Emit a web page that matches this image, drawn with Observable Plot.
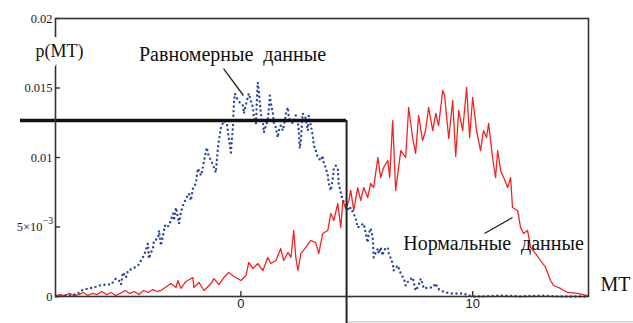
<!DOCTYPE html>
<html>
<head>
<meta charset="utf-8">
<script src="https://cdn.jsdelivr.net/npm/d3@7"></script>
<script src="https://cdn.jsdelivr.net/npm/@observablehq/plot@0.6"></script>
<style>
  html, body { margin: 0; padding: 0; background: #fff; }
  #chart svg, #chart svg text { font-family: "Liberation Serif", "DejaVu Serif", serif !important; }
  #chart svg g[fill="#1b1b1b"] text { font-family: "Liberation Sans", "DejaVu Sans", sans-serif !important; }
</style>
</head>
<body>
<div id="chart"></div>
<script>
// ---- data (p values are given in units of 10^-3) ----
const mtNormal = [-8.0,-7.8,-7.6,-7.4,-7.2,-7.0,-6.8,-6.6,-6.4,-6.2,-6.0,-5.8,-5.6,-5.4,-5.2,-5.0,-4.8,-4.6,-4.4,-4.2,-4.0,-3.8,-3.6,
  -3.45,-3.02,-2.80,-2.72,-2.59,-2.37,-2.07,-2.03,-1.81,-1.59,-1.29,-1.16,-0.95,-0.73,-0.52,-0.30,0,0.22,0.34,0.52,0.73,0.95,1.16,1.29,1.51,1.72,1.85,2.03,2.16,2.28,2.37,2.46,2.59,2.80,3.02,3.23,3.36,3.53,3.75,3.88,4.01,4.18,4.31,4.40,4.53,4.66,4.74,4.87,5.04,5.17,5.30,5.47,5.60,5.73,5.91,6.03,6.16,6.34,6.42,6.55,6.68,6.90,7.11,7.24,7.41,7.54,7.67,7.84,7.97,8.10,8.28,8.41,8.53,8.71,8.79,8.88,8.97,9.14,9.27,9.40,9.57,9.74,9.87,10.0,10.17,10.34,10.47,10.60,10.69,10.86,10.99,11.08,11.21,11.34,11.51,11.64,11.72,11.94,12.07,12.20,12.37,12.50,12.72,12.93,13.15,13.36,13.49,13.79,14.09,14.53,14.96];
const pNormalE3 = [0.07,0.14,0.07,0.22,0.07,0.14,0.29,0.07,0.22,0.14,0.36,0.14,0.29,0.07,0.22,0.43,0.22,0.36,0.14,0.43,0.29,0.50,0.36,
  0.43,0.94,0.65,1.15,0.58,1.08,1.37,0.65,1.01,0.43,0.94,1.29,0.86,1.37,1.73,1.44,1.15,1.51,2.45,2.01,2.37,1.87,2.81,2.37,2.59,3.45,2.59,3.17,2.81,4.75,2.81,1.87,3.09,3.53,4.03,3.88,3.09,4.53,4.75,5.97,5.47,6.69,4.96,6.91,6.33,6.91,7.63,6.19,7.84,6.91,7.84,7.12,8.13,7.84,10.0,8.56,9.28,9.78,8.56,12.66,7.63,10.50,10.0,13.60,11.44,10.29,13.02,11.22,11.94,13.60,11.94,13.17,12.30,14.82,14.46,12.88,11.37,14.10,10.07,13.38,11.94,15.04,11.44,14.32,11.94,10.50,11.94,11.44,12.45,10.0,8.56,10.50,9.06,8.56,7.84,8.56,6.40,6.19,4.96,4.53,4.75,3.53,3.09,2.59,2.09,1.15,0.79,0.58,0.29,0.22,0.07];

const mtUniform = [-7.97,-7.67,-7.33,-7.03,-6.90,-6.59,-6.34,-6.12,-5.82,-5.60,
  -5.39,-5.26,-5.17,-5.09,-4.96,-4.87,-4.66,-4.44,-4.31,-4.18,
  -4.01,-3.97,-3.79,-3.75,-3.58,-3.53,-3.45,-3.36,-3.28,-3.23,
  -3.10,-2.93,-2.89,-2.80,-2.72,-2.67,-2.59,-2.50,-2.37,-2.24,
  -2.16,-2.07,-1.94,-1.90,-1.85,-1.72,-1.64,-1.59,-1.47,-1.42,
  -1.29,-1.16,-1.08,-1.03,-0.99,-0.95,-0.86,-0.73,-0.60,-0.52,
  -0.43,-0.39,-0.34,-0.32,-0.30,-0.26,-0.13,0.09,0.13,0.26,
  0.34,0.43,0.52,0.56,0.65,0.69,0.73,0.78,0.82,0.86,
  0.95,0.99,1.08,1.16,1.21,1.25,1.29,1.38,1.42,1.51,
  1.59,1.64,1.72,1.81,1.90,1.94,2.03,2.07,2.16,2.24,
  2.37,2.46,2.50,2.54,2.59,2.63,2.67,2.80,2.89,2.93,
  3.02,3.10,3.15,3.23,3.32,3.45,3.53,3.58,3.66,3.75,
  3.79,3.88,3.97,4.01,4.09,4.18,4.22,4.31,4.40,4.53,
  4.66,4.74,4.96,5.04,5.17,5.30,5.39,5.47,5.52,5.60,
  5.69,5.71,5.73,5.82,5.91,5.95,6.03,6.12,6.16,6.25,
  6.34,6.38,6.47,6.55,6.59,6.77,6.90,7.03,7.11,7.24,
  7.41,7.46,7.54,7.67,7.76,7.84,7.89,8.10,8.28,8.41,
  8.49,8.62,8.84,9.05,9.35,9.61,9.83,10.0,10.34,11.21,
  12.07,12.93,13.79,15.0];
const pUniformE3 = [0,0.07,0.07,0.22,0.43,0.58,0.65,0.79,0.86,0.86,
  1.29,1.15,0.86,1.73,1.37,1.87,2.01,2.23,2.59,2.95,
  3.81,2.73,3.53,4.03,4.17,4.75,3.67,4.39,5.11,4.96,
  5.11,5.97,5.47,6.40,5.68,5.25,6.04,6.55,7.05,7.41,
  6.91,7.77,8.13,8.71,9.21,8.71,9.28,9.78,10.72,10.29,
  9.78,9.28,8.92,9.93,10.72,11.22,12.16,12.66,12.37,11.37,
  10.36,11.22,12.30,13.17,13.88,14.60,14.10,13.74,13.17,14.10,
  14.60,14.10,13.60,12.88,12.45,14.10,15.40,14.60,13.88,13.17,
  12.52,11.80,12.30,12.66,13.60,14.46,13.96,13.17,12.52,12.16,
  11.44,11.94,12.30,11.94,12.66,13.17,13.60,12.81,12.66,12.45,
  13.02,12.52,11.94,10.65,11.22,12.30,13.17,12.81,11.94,13.02,
  12.30,11.58,10.86,10.50,10.0,9.78,10.14,9.57,9.28,8.71,
  8.13,7.63,8.56,9.21,9.42,9.21,8.13,7.48,6.91,6.69,
  6.19,6.40,5.61,4.96,5.11,5.25,4.53,3.88,4.53,4.89,
  4.24,3.45,2.81,3.17,3.45,3.09,3.53,2.95,3.31,3.45,
  3.53,3.09,2.73,2.37,1.87,2.23,1.65,1.29,0.79,1.15,
  1.37,1.01,0.43,0.79,1.29,0.94,0.58,0.65,0.65,0.94,
  0.58,0.43,0.29,0.22,0.22,0.22,0.07,0,0,0.07,
  0,0.07,0,0];

// theoretical uniform density (thick black step)
const uniformFrom = -9.51, uniformTo = 4.56, uniformLevel = 0.01266, uniformBottom = -0.00194;

// axes
const xDomain = [-8, 15];
const yDomain = [0, 0.02];
const xTickValues = [0, 10];
const xTickLabels = ["0", "10"];
const yTickValues = [0.02, 0.015, 0.01, 0.005, 0];
const yTickLabels = ["0.02", "0.015", "0.01", "5×10", "0"];
const yExpValue = 0.005, yExpLabel = "−3";

// annotations
const notes = [
  {mt: -0.36, p: 0.01741, text: "Равномерные  данные", weight: "bold", size: 20},
  {mt: 10.9, p: 0.00381, text: "Нормальные  данные", weight: "normal", size: 20}
];
const leaders = [
  {x1: -0.75, y1: 0.0164, x2: 0.11, y2: 0.01446},
  {x1: 10.51, y1: 0.00453, x2: 11.72, y2: 0.00568}
];
const axisTitles = [
  {mt: -7.83, p: 0.01763, text: "p(MT)", size: 18},
  {mt: 16.16, p: 0.00086, text: "MT", size: 20}
];

// ---- build tables ----
const normal = mtNormal.map((m, i) => ({mt: m, p: pNormalE3[i] / 1000}));
const uniform = mtUniform.map((m, i) => ({mt: m, p: pUniformE3[i] / 1000}));

const W = 633, H = 323, mL = 55, mR = 45, mT = 18, mB = 27;
const plotW = W - mL - mR, plotH = H - mT - mB;

const chart = Plot.plot({
  width: W, height: H,
  marginLeft: mL, marginRight: mR, marginTop: mT, marginBottom: mB,
  style: {background: "#fff", overflow: "visible"},
  x: {domain: xDomain, axis: null},
  y: {domain: yDomain, axis: null},
  marks: [
    // grey bottom line
    Plot.ruleY([uniformBottom + 0.00011], {x1: uniformTo, x2: 16.94, stroke: "#b8b8b8", strokeWidth: 1}),
    // data
    Plot.line(normal, {x: "mt", y: "p", stroke: "#f42323", strokeWidth: 1.3}),
    Plot.line(uniform, {x: "mt", y: "p", stroke: "#2a46a3", strokeWidth: 2.4,
      strokeDasharray: "0,4.6", strokeLinecap: "round", strokeLinejoin: "round"}),
    // uniform theoretical
    Plot.ruleY([uniformLevel], {x1: uniformFrom, x2: uniformTo, stroke: "#111", strokeWidth: 3.5}),
    Plot.ruleX([uniformTo], {y1: uniformLevel, y2: uniformBottom, stroke: "#222", strokeWidth: 2}),
    // frame
    Plot.frame({stroke: "#333", strokeWidth: 1.6}),
    // ticks (inside)
    Plot.tickY(yTickValues, {y: d => d, insetRight: plotW - 5, stroke: "#333", strokeWidth: 1.4}),
    Plot.tickX(xTickValues, {x: d => d, insetTop: plotH - 5, stroke: "#333", strokeWidth: 1.4}),
    // tick labels
    Plot.text(yTickValues.filter(v => v !== yExpValue), {y: d => d, frameAnchor: "left",
      text: d => yTickLabels[yTickValues.indexOf(d)], textAnchor: "end", dx: -3, fontSize: 12.5,
      fill: "#1a1a1a"}),
    Plot.text([yExpValue], {y: d => d, frameAnchor: "left", text: d => yTickLabels[yTickValues.indexOf(d)],
      textAnchor: "end", dx: -13, fontSize: 12.5, fill: "#1a1a1a"}),
    Plot.text([yExpValue], {y: d => d, frameAnchor: "left", text: () => yExpLabel,
      textAnchor: "start", dx: -13, dy: -6, fontSize: 10, fill: "#1a1a1a"}),
    Plot.text(xTickValues, {x: d => d, frameAnchor: "bottom", text: (d, i) => xTickLabels[i],
      dy: 11, fontSize: 13, fill: "#1b1b1b"}),
    // axis titles (white halo hides the axis line)
    Plot.text(axisTitles, {x: "mt", y: "p", text: "text", fontSize: d => d.size, fill: "#111",
      stroke: "#fff", strokeWidth: 14}),
    // annotations
    Plot.link(leaders, {x1: "x1", y1: "y1", x2: "x2", y2: "y2", stroke: "#222", strokeWidth: 1.3}),
    Plot.text(notes, {x: "mt", y: "p", text: "text", fontSize: d => d.size, fontWeight: d => d.weight,
      fill: "#111"})
  ]
});
document.getElementById("chart").appendChild(chart);
</script>
</body>
</html>
